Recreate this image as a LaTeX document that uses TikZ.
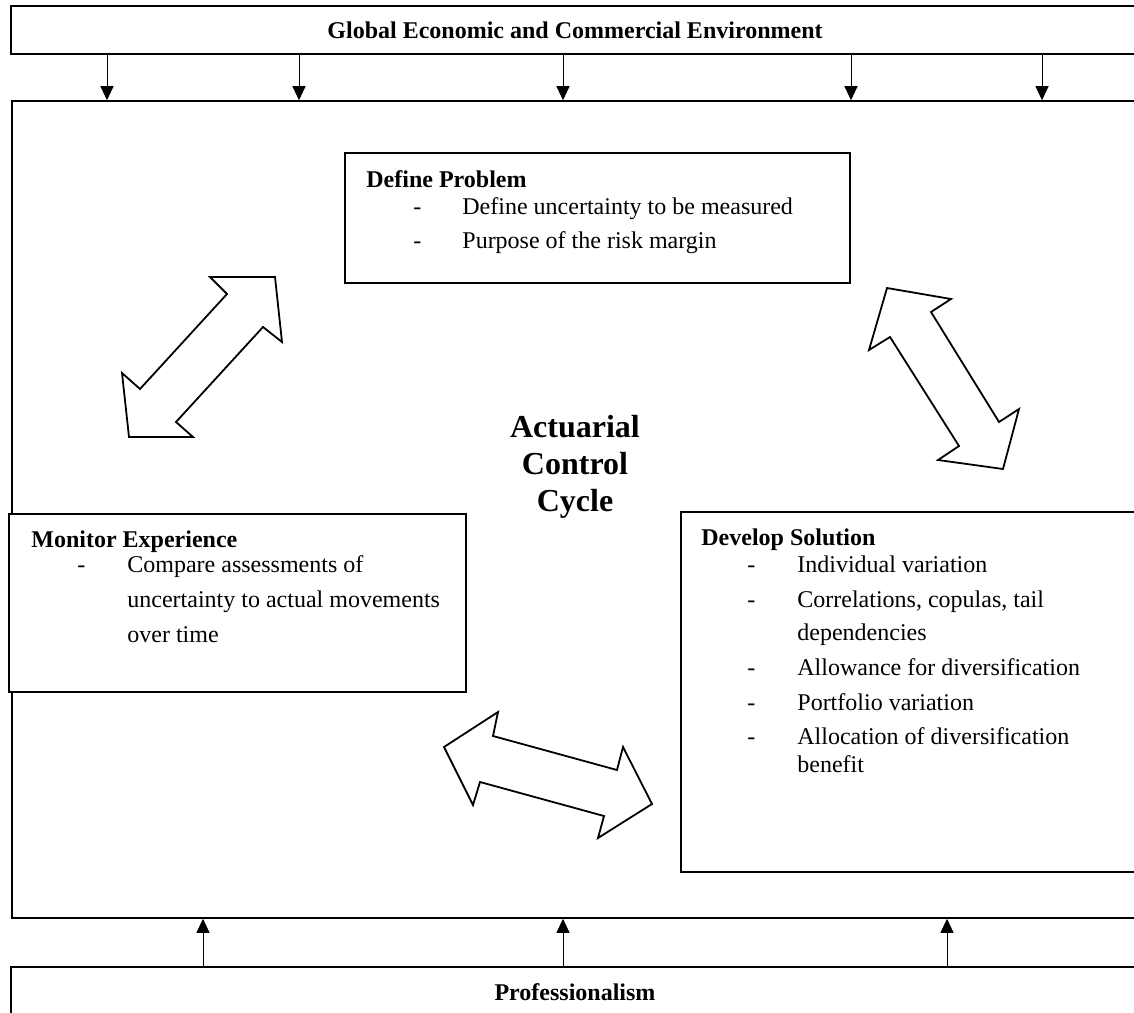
\documentclass[tikz,border=0pt]{standalone}
\usepackage{fontspec}
\setmainfont{Liberation Serif}
\usetikzlibrary{arrows.meta,fit}

\tikzset{
  panel/.style={draw, line width=0.8pt, fill=white, inner sep=0pt},
  feed/.style={-{Triangle[length=7pt,width=6.5pt]}, line width=0.5pt},
  heading/.style={anchor=base west, inner sep=0pt, font=\fontsize{12}{14.4}\selectfont\bfseries},
  item/.style={anchor=base west, inner sep=0pt},
  bigarrow/.style={draw, line width=0.9pt, fill=white, line join=miter},
}

\begin{document}
\begin{tikzpicture}[x=0.5pt, y=-0.5pt, font=\fontsize{12}{14.4}\selectfont]

    \useasboundingbox (0,0) rectangle (1134,1012);
    \clip (0,0) rectangle (1134,1012);

    % Outer frames
    \node[panel, fit={(11,6) (1140,54)}] (env) {};
    \node[heading, anchor=base] (env-t) at (575,38) {Global Economic and Commercial Environment};
    \node[panel, fit={(12,101) (1140,918)}] (frame) {};
    \node[panel, fit={(11,967) (1140,1030)}] (prof) {};
    \node[heading, anchor=base] (prof-t) at (575,1000) {Professionalism};

    % Influence of the environment
    \foreach \x in {107,299,563,851,1042}
        \draw[feed] (env.south -| \x,0) -- (frame.north -| \x,0);

    % Influence of professionalism
    \foreach \x in {203,563,947}
        \draw[feed] (prof.north -| \x,0) -- (frame.south -| \x,0);

    % Define Problem
    \node[panel, fit={(345,153) (850,283)}] (define) {};
    \node[heading] (define-t) at (366,187) {Define Problem};
    \node[item] at (413,214) {-};
    \node[item] at (462,214) {Define uncertainty to be measured};
    \node[item] at (413,248) {-};
    \node[item] at (462,248) {Purpose of the risk margin};

    % Monitor Experience
    \node[panel, fit={(9,514) (466,692)}] (monitor) {};
    \node[heading] (monitor-t) at (31,547) {Monitor Experience};
    \node[item] at (77,572) {-};
    \node[item] at (127,572) {Compare assessments of};
    \node[item] at (127,607) {uncertainty to actual movements};
    \node[item] at (127,642) {over time};

    % Develop Solution
    \node[panel, fit={(681,512) (1140,872)}] (develop) {};
    \node[heading] (develop-t) at (701,545) {Develop Solution};
    \foreach \y in {572,607,675,710,744}
        \node[item] at (747,\y) {-};
    \node[item] at (797,572) {Individual variation};
    \node[item] at (797,607) {Correlations, copulas, tail};
    \node[item] at (797,640) {dependencies};
    \node[item] at (797,675) {Allowance for diversification};
    \node[item] at (797,710) {Portfolio variation};
    \node[item] at (797,744) {Allocation of diversification};
    \node[item] at (797,772) {benefit};

    % Centre title
    \node[align=center, font=\fontsize{16}{18.5}\selectfont\bfseries] (title) at (575,467) {Actuarial\\Control\\Cycle};

    % Monitor <-> Define
    \draw[bigarrow] (275,277) -- (210,277) -- (227,294) -- (140,389) -- (122,373) -- (129,437)
        -- (193,437) -- (176,422) -- (263,327) -- (282,342) -- cycle;

    % Define <-> Develop
    \draw[bigarrow] (887,288) -- (951,299) -- (931,312) -- (999,422) -- (1019,409) -- (1003,469)
        -- (938,460) -- (959,446) -- (890,337) -- (869,350) -- cycle;

    % Develop <-> Monitor
    \draw[bigarrow] (444,747) -- (498,712) -- (493,736) -- (617,770) -- (623,747) -- (652,804)
        -- (598,838) -- (604,816) -- (480,782) -- (473,805) -- cycle;

\end{tikzpicture}
\end{document}
